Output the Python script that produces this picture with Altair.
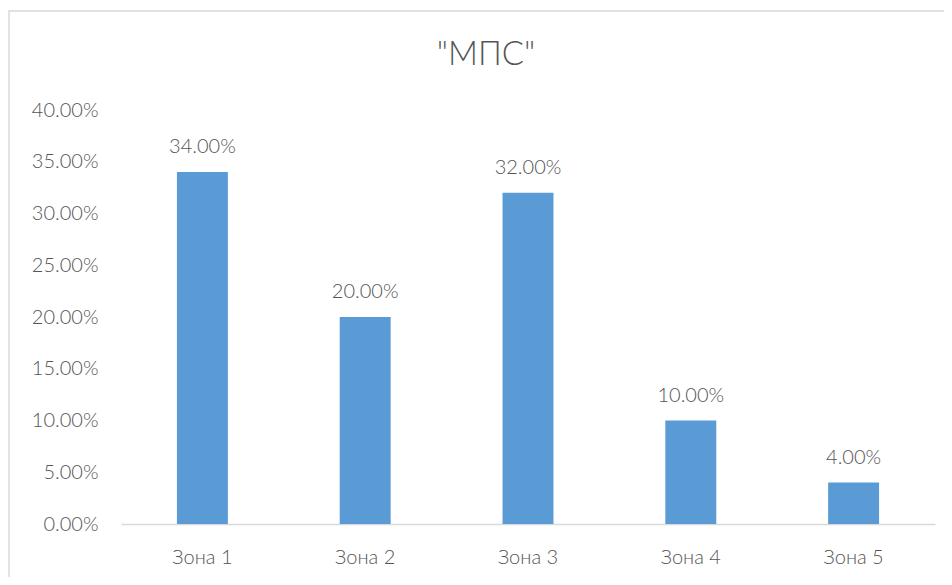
import altair as alt
import pandas as pd

zones = ["Зона 1", "Зона 2", "Зона 3", "Зона 4", "Зона 5"]
values = [0.34, 0.20, 0.32, 0.10, 0.04]
y_ticks = [0.0, 0.05, 0.10, 0.15, 0.20, 0.25, 0.30, 0.35, 0.40]
title_text = ['"МПС"']

df = pd.DataFrame({"zone": zones, "value": values})
title_df = pd.DataFrame({"t": title_text})

FONT = "Lato"
FW = 300
TXT = "#555555"

base = alt.Chart(df)

x_enc = alt.X("zone:N", sort=zones, title=None,
              scale=alt.Scale(paddingInner=0.687, paddingOuter=0.3435),
              axis=alt.Axis(labelAngle=0, ticks=False, tickSize=0, labelPadding=33,
                            domainColor="#d9d9d9", domainWidth=1.5,
                            labelFont=FONT, labelFontSize=20, labelFontWeight=FW,
                            labelColor=TXT, labelBaseline="middle", grid=False))
y_enc = alt.Y("value:Q", title=None,
              scale=alt.Scale(domain=[0, 0.4], nice=False),
              axis=alt.Axis(values=y_ticks, format=".2%", ticks=False, tickSize=0,
                            domain=False, grid=False, labelPadding=23,
                            labelFont=FONT, labelFontSize=20, labelFontWeight=FW,
                            labelColor=TXT))

bars = base.mark_bar(color="#5B9BD5").encode(x=x_enc, y=y_enc)

labels = base.mark_text(font=FONT, fontSize=20, fontWeight=FW, color=TXT,
                        baseline="middle", dy=-25).encode(
    x=alt.X("zone:N", sort=zones), y=alt.Y("value:Q"),
    text=alt.Text("value:Q", format=".2%"))

border = alt.Chart(title_df).mark_rect(fill="transparent", stroke="#d9d9d9", strokeWidth=1.5).encode(
    x=alt.value(-112), x2=alt.value(860), y=alt.value(-99), y2=alt.value(500))

title = alt.Chart(title_df).mark_text(font=FONT, fontSize=33, fontWeight=FW, color=TXT,
                                      baseline="middle", align="center").encode(
    x=alt.value(365), y=alt.value(-55), text="t:N")

chart = alt.layer(border, bars, labels, title).properties(
    width=814, height=414,
    background="white",
    autosize=alt.AutoSizeParams(type="none"),
    padding={"left": 113, "top": 102, "right": 9, "bottom": 53},
).configure_view(strokeWidth=0, stroke="transparent")

chart.save("out.html", embed_options={"renderer": "svg", "actions": False})
